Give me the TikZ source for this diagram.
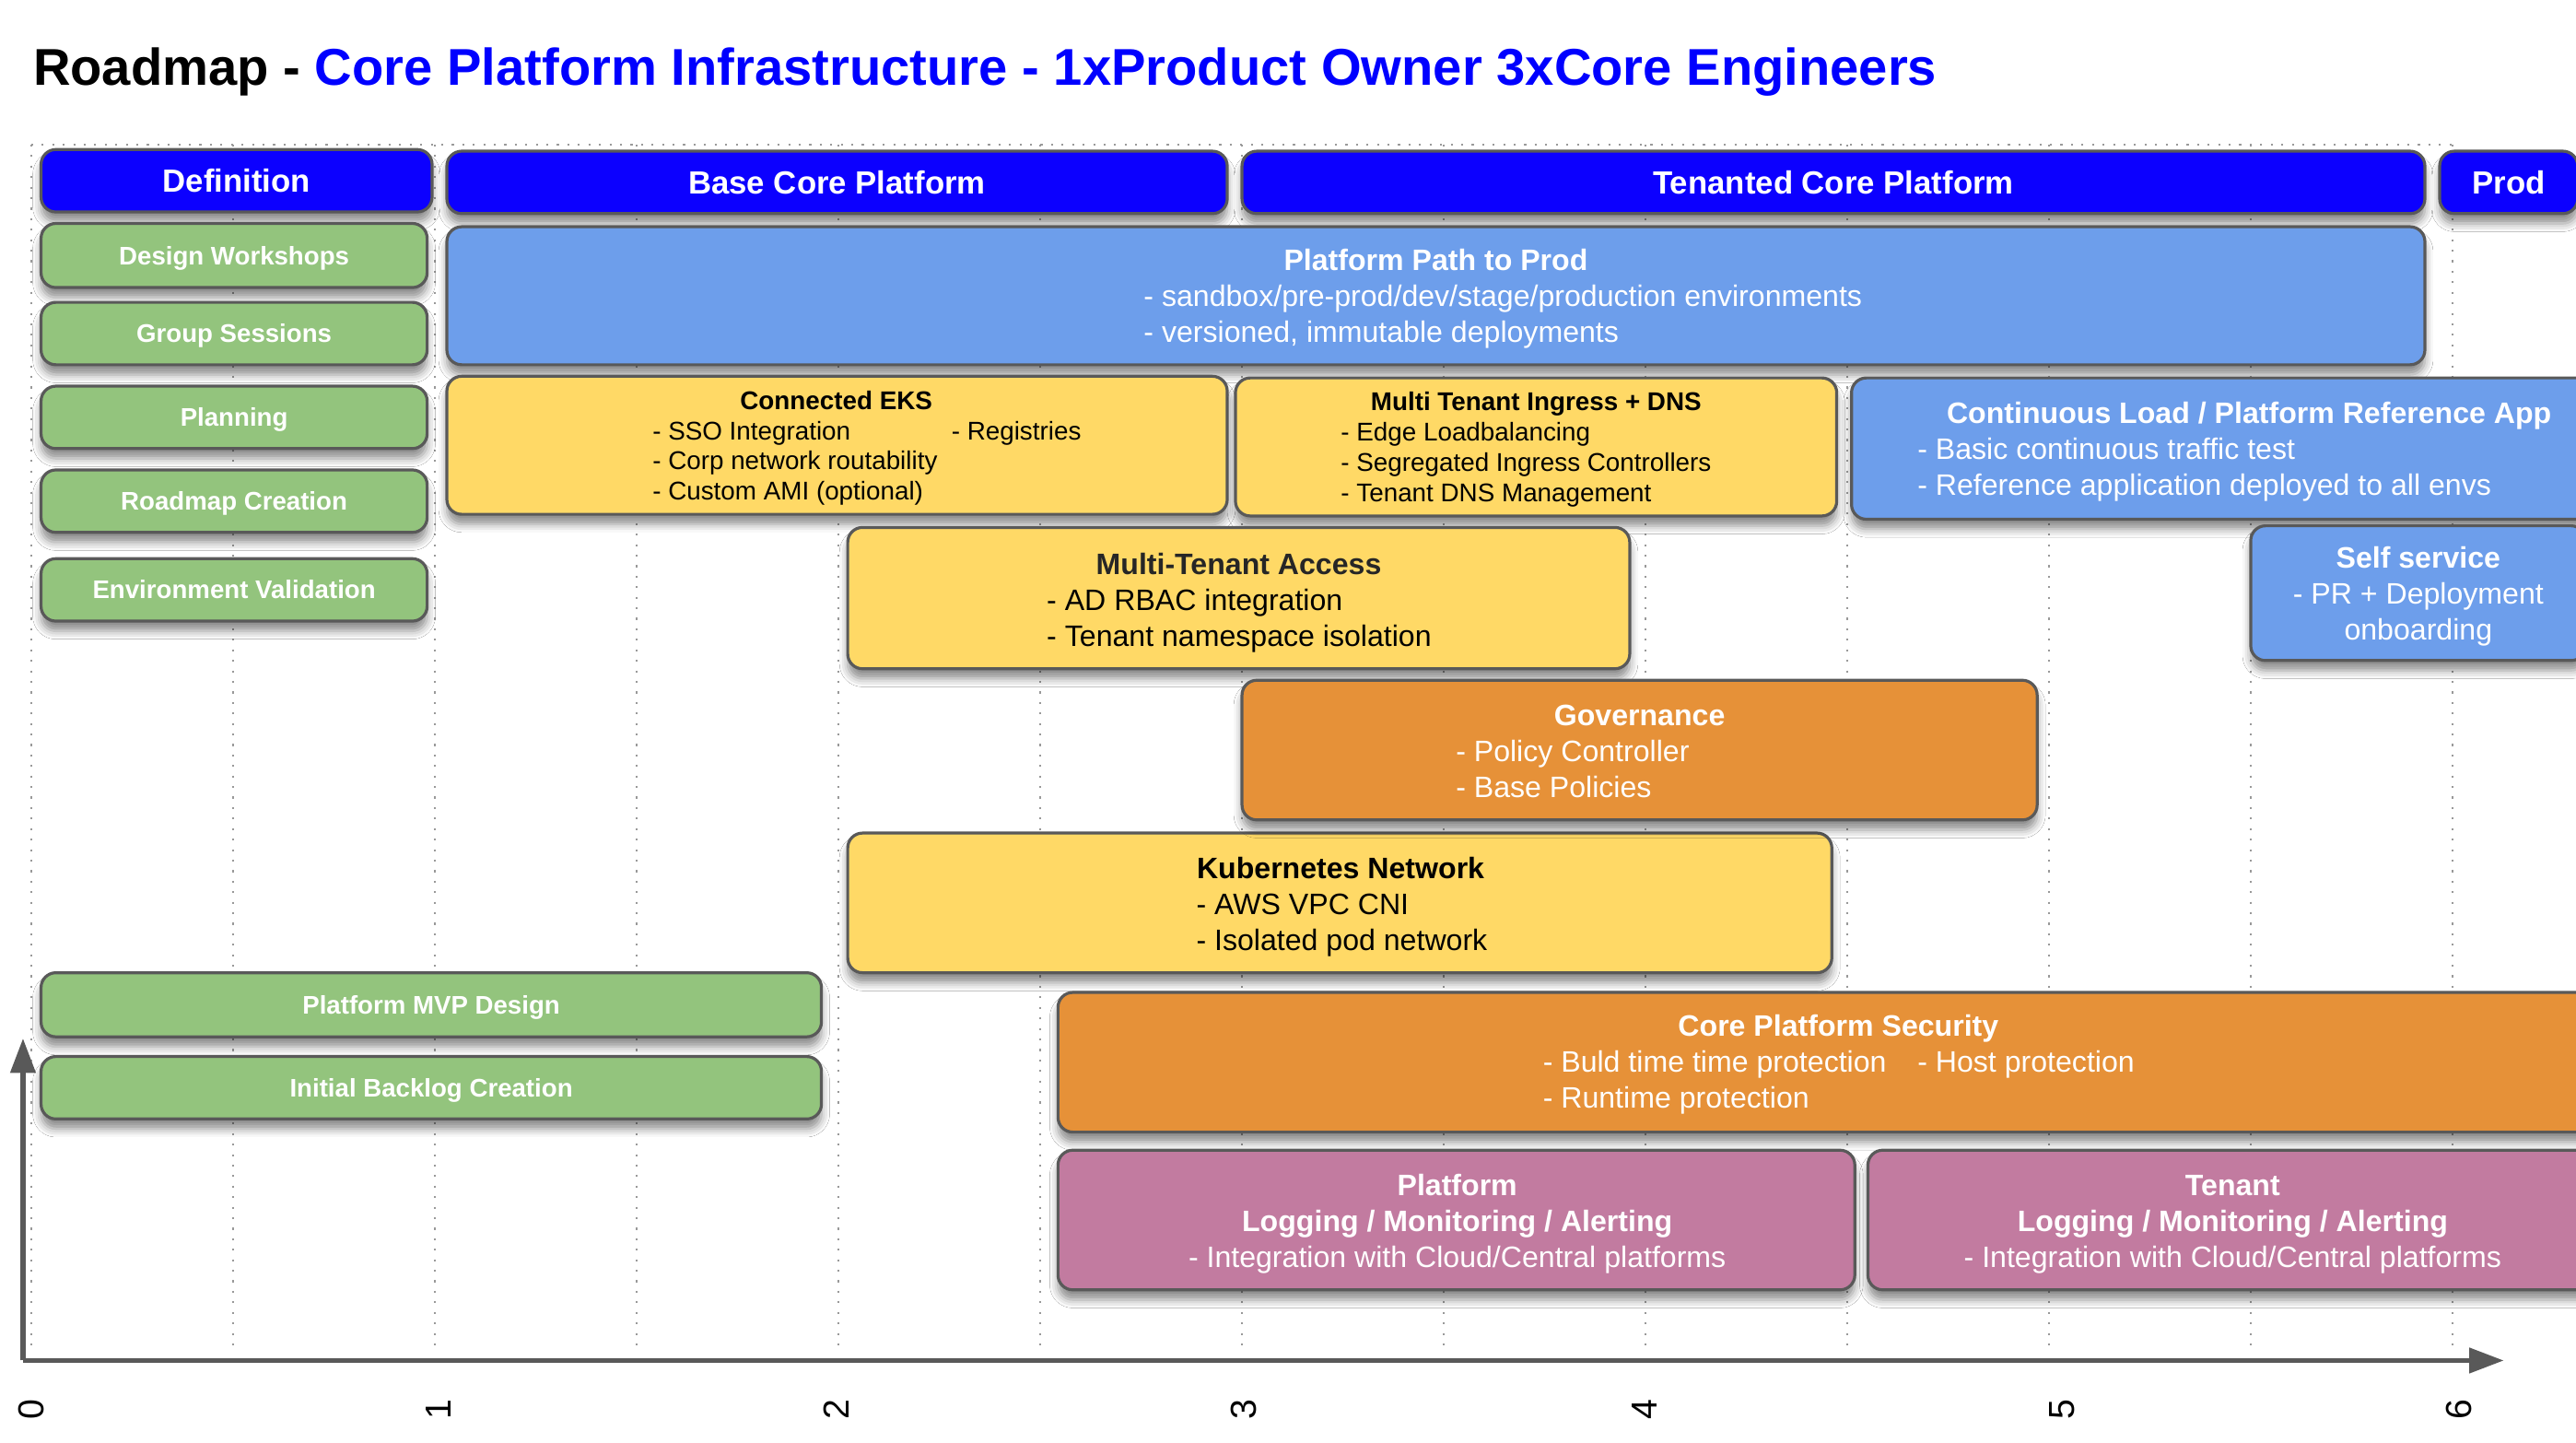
\documentclass[tikz,border=0pt]{standalone}
\usepackage{fontspec}
\setmainfont{Liberation Sans}
\usetikzlibrary{shadows.blur,arrows.meta}
\definecolor{hdrblue}{HTML}{0C00FF}
\definecolor{titleblue}{HTML}{0000FF}
\definecolor{green1}{HTML}{93C47D}
\definecolor{blue1}{HTML}{6D9EEB}
\definecolor{yellow1}{HTML}{FFD966}
\definecolor{orange1}{HTML}{E69138}
\definecolor{pink1}{HTML}{C27BA0}
\definecolor{edge}{HTML}{595959}
\definecolor{gridgray}{HTML}{999999}
\tikzset{
 box/.style={draw=edge, line width=1.8pt, rounded corners=9pt, inner sep=0pt, text=white,
   font=\bfseries\fontsize{15.5}{18}\selectfont, text height=11pt, text depth=0pt,
   blur shadow={shadow xshift=0pt, shadow yshift=-6pt, shadow blur radius=5pt, shadow opacity=45}},
 hdrbox/.style={box, fill=hdrblue, font=\bfseries\fontsize{19.5}{23}\selectfont, text height=14pt},
 grn/.style={box, fill=green1},
 blu/.style={box, fill=blue1},
 yel/.style={box, fill=yellow1},
 org/.style={box, fill=orange1},
 pnk/.style={box, fill=pink1},
 hd/.style={inner sep=0pt, anchor=base, font=\bfseries\fontsize{18}{20}\selectfont},
 ln/.style={inner sep=0pt, anchor=base west, font=\fontsize{18}{20}\selectfont},
 lnc/.style={inner sep=0pt, anchor=base, font=\fontsize{18}{20}\selectfont},
 hds/.style={inner sep=0pt, anchor=base, font=\bfseries\fontsize{15.6}{18}\selectfont},
 lns/.style={inner sep=0pt, anchor=base west, font=\fontsize{15.6}{18}\selectfont},
 gridln/.style={draw=gridgray, line width=1.2pt, dash pattern=on 1.2pt off 5.2pt},
 axisln/.style={draw=edge, line width=3pt, -{Triangle[length=21pt,width=15pt]}},
 tick/.style={inner sep=0pt, rotate=90, font=\fontsize{22}{24}\selectfont},
}
\begin{document}
\begin{tikzpicture}[x=1pt,y=-1pt]
\useasboundingbox (0,0) rectangle (1568,878);
\fill[white] (0,0) rectangle (1568,878);
\clip (0,0) rectangle (1568,878);

% title
\node[inner sep=0pt, anchor=base west, font=\bfseries\fontsize{31.5}{36}\selectfont] (title) at (20,52)
  {Roadmap - \textcolor{titleblue}{Core Platform Infrastructure - 1xProduct Owner 3xCore Engineers}};

% grid
\draw[gridln] (19,88) -- (1492.6,88);
\foreach \k in {0,...,12}{
  \draw[gridln] ({19+122.8*\k},88) -- ({19+122.8*\k},820);
}

% axes
\coordinate (o) at (14,828);
\coordinate (xend) at (1524,828);
\coordinate (yend) at (14,632);
\draw[axisln] (o) -- (xend);
\draw[axisln] (o) -- (yend);

% tick labels
\node[tick] (n0) at (19,858) {0};
\node[tick] (n1) at (267,858) {1};
\node[tick] (n2) at (509,858) {2};
\node[tick] (n3) at (757,858) {3};
\node[tick] (n4) at (1001,858) {4};
\node[tick] (n5) at (1255,858) {5};
\node[tick] (n6) at (1497,858) {6};

% header row
\node[hdrbox, minimum width=238pt, minimum height=38pt] (hDef) at (144,110) {Definition};
\node[hdrbox, minimum width=475pt, minimum height=38pt] (hBase) at (509.5,111) {Base Core Platform};
\node[hdrbox, minimum width=720pt, minimum height=38pt] (hTen) at (1116,111) {Tenanted Core Platform};
\node[hdrbox, minimum width=84pt, minimum height=38pt] (hProd) at (1527,111) {Prod};

% green
\node[grn, minimum width=235pt, minimum height=39pt] (gDW) at (142.5,155.5) {Design Workshops};
\node[grn, minimum width=235pt, minimum height=38pt] (gGS) at (142.5,203) {Group Sessions};
\node[grn, minimum width=235pt, minimum height=38pt] (gPl) at (142.5,254) {Planning};
\node[grn, minimum width=235pt, minimum height=38pt] (gRC) at (142.5,305) {Roadmap Creation};
\node[grn, minimum width=235pt, minimum height=38pt] (gEV) at (142.5,359) {Environment Validation};
\node[grn, minimum width=475pt, minimum height=39pt] (gMVP) at (262.5,611.5) {Platform MVP Design};
\node[grn, minimum width=475pt, minimum height=38pt] (gIBC) at (262.5,662) {Initial Backlog Creation};

% blue
\node[blu, minimum width=1204pt, minimum height=84pt] (bPPP) at (874,180) {};
\node[hd, text=white] (tPPP) at (874,164.5) {Platform Path to Prod};
\node[ln, text=white] (tPPP1) at (696,186.5) {- sandbox/pre-prod/dev/stage/production environments};
\node[ln, text=white] (tPPP2) at (696,208.5) {- versioned, immutable deployments};

\node[blu, minimum width=484pt, minimum height=86pt] (bCL) at (1369,273) {};
\node[hd, text=white] (tCL) at (1369,257.5) {Continuous Load / Platform Reference App};
\node[ln, text=white] (tCL1) at (1167,279.5) {- Basic continuous traffic test};
\node[ln, text=white] (tCL2) at (1167,301.5) {- Reference application deployed to all envs};

\node[blu, minimum width=204pt, minimum height=82pt] (bSS) at (1472,361) {};
\node[hd, text=white] (tSS) at (1472,345.5) {Self service};
\node[lnc, text=white] (tSS1) at (1472,367.5) {- PR + Deployment};
\node[lnc, text=white] (tSS2) at (1472,389.5) {onboarding};

% yellow
\node[yel, minimum width=475pt, minimum height=84pt] (yEKS) at (509.5,271) {};
\node[hds] (tEKS) at (509,249) {Connected EKS};
\node[lns] (tEKS1) at (397,267.5) {- SSO Integration};
\node[lns] (tEKS4) at (579,267.5) {- Registries};
\node[lns] (tEKS2) at (397,286) {- Corp network routability};
\node[lns] (tEKS3) at (397,304.5) {- Custom AMI (optional)};

\node[yel, minimum width=366pt, minimum height=84pt] (yMTI) at (935,272) {};
\node[hds] (tMTI) at (935,250) {Multi Tenant Ingress + DNS};
\node[lns] (tMTI1) at (816,268.5) {- Edge Loadbalancing};
\node[lns] (tMTI2) at (816,287) {- Segregated Ingress Controllers};
\node[lns] (tMTI3) at (816,305.5) {- Tenant DNS Management};

\node[yel, minimum width=476pt, minimum height=86pt] (yMTA) at (754,364) {};
\node[hd, text=black!85] (tMTA) at (754,349.5) {Multi-Tenant Access};
\node[ln] (tMTA1) at (637,371.5) {- AD RBAC integration};
\node[ln] (tMTA2) at (637,393.5) {- Tenant namespace isolation};

\node[yel, minimum width=599pt, minimum height=85pt] (yKN) at (815.5,549.5) {};
\node[hd] (tKN) at (816,534.5) {Kubernetes Network};
\node[ln] (tKN1) at (728,556.5) {- AWS VPC CNI};
\node[ln] (tKN2) at (728,578.5) {- Isolated pod network};

% orange
\node[org, minimum width=484pt, minimum height=85pt] (oGov) at (998,456.5) {};
\node[hd, text=white] (tGov) at (998,441.5) {Governance};
\node[ln, text=white] (tGov1) at (886,463.5) {- Policy Controller};
\node[ln, text=white] (tGov2) at (886,485.5) {- Base Policies};

\node[org, minimum width=950pt, minimum height=85pt] (oCPS) at (1119,646.5) {};
\node[hd, text=white] (tCPS) at (1119,630.5) {Core Platform Security};
\node[ln, text=white] (tCPS1) at (939,652.5) {- Buld time time protection};
\node[ln, text=white] (tCPS3) at (1167,652.5) {- Host protection};
\node[ln, text=white] (tCPS2) at (939,674.5) {- Runtime protection};

% pink
\node[pnk, minimum width=485pt, minimum height=85pt] (pPL) at (886.5,742.5) {};
\node[hd, text=white] (tPL) at (887,727.5) {Platform};
\node[hd, text=white] (tPL1) at (887,749.5) {Logging / Monitoring / Alerting};
\node[lnc, text=white] (tPL2) at (887,771.5) {- Integration with Cloud/Central platforms};

\node[pnk, minimum width=444pt, minimum height=85pt] (pTL) at (1359,742.5) {};
\node[hd, text=white] (tTL) at (1359,727.5) {Tenant};
\node[hd, text=white] (tTL1) at (1359,749.5) {Logging / Monitoring / Alerting};
\node[lnc, text=white] (tTL2) at (1359,771.5) {- Integration with Cloud/Central platforms};
\end{tikzpicture}
\end{document}
